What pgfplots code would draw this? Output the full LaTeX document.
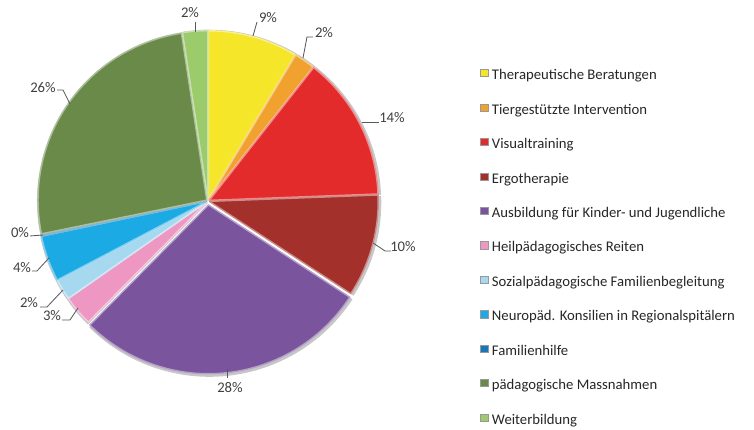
\documentclass[border=0pt]{standalone}
\usepackage{pgfplots}
\usepackage{pgfplotstable}
\pgfplotsset{compat=1.18}
\usepackage{fontspec}
\setmainfont{Carlito}

\definecolor{c0}{HTML}{F6E62A}
\definecolor{c1}{HTML}{F0A12E}
\definecolor{c2}{HTML}{E42B2C}
\definecolor{c3}{HTML}{A3302B}
\definecolor{c4}{HTML}{7A559E}
\definecolor{c5}{HTML}{EE97C3}
\definecolor{c6}{HTML}{A6D9F0}
\definecolor{c7}{HTML}{1BAAE3}
\definecolor{c8}{HTML}{1877B8}
\definecolor{c9}{HTML}{6A8A4A}
\definecolor{c10}{HTML}{9BCB6B}
\definecolor{txt}{HTML}{404040}
\definecolor{lead}{HTML}{595959}

\pgfplotstableread[col sep=semicolon]{
name;value;explode
Therapeutische Beratungen;8.6;1.5
Tiergestützte Intervention;2.0;1.5
Visualtraining;13.8;1.5
Ergotherapie;9.8;1.5
Ausbildung für Kinder- und Jugendliche;28.2;4
Heilpädagogisches Reiten;2.9;1.5
Sozialpädagogische Familienbegleitung;2.0;1.5
Neuropäd. Konsilien in Regionalspitälern;4.4;1.5
Familienhilfe;0.1;1.5
pädagogische Massnahmen;25.8;1.5
Weiterbildung;2.4;1.5
}\piedata

\begin{document}
\def\cum{90}%
\pgfplotsforeachungrouped \i in {0,...,10}{%
  \pgfplotstablegetelem{\i}{value}\of\piedata
  \pgfmathsetmacro\va{\cum}%
  \pgfmathsetmacro\vb{\cum-3.6*\pgfplotsretval}%
  \pgfmathsetmacro\vm{(\va+\vb)/2}%
  \pgfplotstablegetelem{\i}{explode}\of\piedata
  \pgfmathsetmacro\ve{\pgfplotsretval*0.72}%
  \expandafter\xdef\csname sa\i\endcsname{\va}%
  \expandafter\xdef\csname sb\i\endcsname{\vb}%
  \expandafter\xdef\csname sm\i\endcsname{\vm}%
  \expandafter\xdef\csname se\i\endcsname{\ve}%
  \xdef\cum{\vb}%
}%
\begin{tikzpicture}
\begin{axis}[
  scale only axis, width=542.88bp, height=309.6bp,
  xmin=0, xmax=754, ymin=0, ymax=430,
  hide axis, clip=false,
  legend style={at={(axis cs:480,361)}, anchor=north west, draw=none, fill=none,
    font=\fontsize{10.6bp}{12bp}\selectfont, text=black!85,
    inner sep=0pt, row sep=15.25bp, column sep=2.9bp,
    nodes={inner sep=0pt, text height=7bp, text depth=2bp}},
  legend cell align=left,
  legend image code/.code={\draw[#1, draw=black!40, line width=0.3bp] (0bp,-0.3bp) rectangle (5.2bp,4.9bp);},
]
\path (axis cs:0,0) rectangle (axis cs:754,430);
% shadows
\pgfplotsinvokeforeach{0,...,10}{
  \fill[black!22] ([shift={(\csname sm#1\endcsname:\csname se#1\endcsname bp)}]axis cs:209,228)
    -- ++(\csname sa#1\endcsname:123bp)
    arc[start angle=\csname sa#1\endcsname, end angle=\csname sb#1\endcsname, radius=123bp] -- cycle;
}
% slices
\pgfplotsinvokeforeach{0,...,10}{
  \filldraw[fill=c#1, draw=c#1!55!white, line width=1bp, line join=round]
    ([shift={(\csname sm#1\endcsname:\csname se#1\endcsname bp)}]axis cs:208,229)
    -- ++(\csname sa#1\endcsname:121.5bp)
    arc[start angle=\csname sa#1\endcsname, end angle=\csname sb#1\endcsname, radius=121.5bp] -- cycle;
}
% leader lines
\begin{scope}[draw=lead, line width=0.6bp]
\draw (axis cs:257,408) -- (axis cs:253,394);
\draw (axis cs:313,393) -- (axis cs:307,393) -- (axis cs:303,372);
\draw (axis cs:379,308) -- (axis cs:362,308);
\draw (axis cs:391,179) -- (axis cs:385,179) -- (axis cs:373,187);
\draw (axis cs:227,52) -- (axis cs:227,61);
\draw (axis cs:62,110) -- (axis cs:70,110) -- (axis cs:78,122);
\draw (axis cs:40,123) -- (axis cs:47,123) -- (axis cs:63,140);
\draw (axis cs:32,159) -- (axis cs:37,159) -- (axis cs:49,172);
\draw (axis cs:30,194) -- (axis cs:43,195);
\draw (axis cs:57,340) -- (axis cs:63,340) -- (axis cs:70,326);
\draw (axis cs:195,408) -- (axis cs:195,398);
\end{scope}
\begin{scope}[every node/.style={font=\fontsize{10.6bp}{12bp}\selectfont, text=txt, inner sep=0pt}]
\node at (axis cs:268,412) {9\%};
\node at (axis cs:324,397) {2\%};
\node at (axis cs:392,312) {14\%};
\node at (axis cs:403,183) {10\%};
\node at (axis cs:230,42) {28\%};
\node at (axis cs:52,114) {3\%};
\node at (axis cs:29,127) {2\%};
\node at (axis cs:22,162) {4\%};
\node at (axis cs:20,197) {0\%};
\node at (axis cs:43,342) {26\%};
\node at (axis cs:190,417) {2\%};
\end{scope}
\addlegendimage{fill=c0}\addlegendentry{Therapeutische Beratungen}
\addlegendimage{fill=c1}\addlegendentry{Tiergestützte Intervention}
\addlegendimage{fill=c2}\addlegendentry{Visualtraining}
\addlegendimage{fill=c3}\addlegendentry{Ergotherapie}
\addlegendimage{fill=c4}\addlegendentry{Ausbildung für Kinder- und Jugendliche}
\addlegendimage{fill=c5}\addlegendentry{Heilpädagogisches Reiten}
\addlegendimage{fill=c6}\addlegendentry{Sozialpädagogische Familienbegleitung}
\addlegendimage{fill=c7}\addlegendentry{Neuropäd. Konsilien in Regionalspitälern}
\addlegendimage{fill=c8}\addlegendentry{Familienhilfe}
\addlegendimage{fill=c9}\addlegendentry{pädagogische Massnahmen}
\addlegendimage{fill=c10}\addlegendentry{Weiterbildung}
\end{axis}
\end{tikzpicture}
\end{document}
